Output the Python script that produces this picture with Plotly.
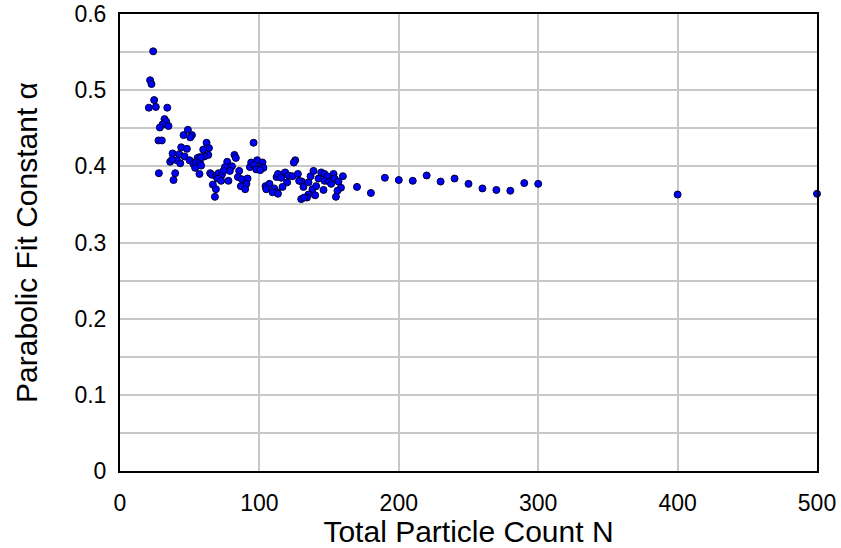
import plotly.graph_objects as go

# Total particle count N
n_values = [
    23.8, 21.6, 22.6, 24.5, 20.7, 25.7, 33.9, 31.9, 33.1, 30.5, 28.6, 34.8, 27.6, 30.0, 27.9,
    45.6, 51.6, 48.7, 50.4, 43.9, 48.0, 37.7, 42.5, 46.3, 36.0, 40.8, 49.9, 43.2, 52.7, 53.9,
    57.0, 39.6, 38.4, 57.0, 55.6, 54.7, 57.3, 58.2, 37.4,
    62.1, 63.8, 59.7, 63.3, 60.6, 58.2, 64.7, 65.9, 68.8, 70.7, 73.1, 69.9, 72.6, 66.6, 68.8, 68.1,
    95.8, 82.1, 83.1, 76.9, 75.3, 80.3, 78.8, 74.2, 85.5, 77.8, 84.6, 87.4, 91.5, 90.7, 86.7, 89.8,
    93.2, 94.1, 98.4, 96.1, 97.7,
    102.2, 101.3, 102.9, 100.6, 104.4, 107.2, 110.6, 112.3, 112.8, 109.4, 104.9, 114.9, 117.3,
    125.7, 124.7, 113.3, 118.5, 115.6, 120.9, 123.7, 127.6, 119.9, 116.6, 113.3, 130.5, 128.5,
    131.6, 135.2, 136.7, 138.8, 142.4, 138.1, 140.7, 144.3, 146.7, 148.8, 146.7, 146.0, 149.9,
    151.5, 153.2, 153.9, 156.7, 159.9, 158.5, 156.0, 154.9, 140.0, 135.2, 134.1, 130.0, 132.1,
    170, 180, 190, 200, 210, 220, 230, 240, 250, 260, 270, 280, 290, 300, 400, 500,
]

# Parabolic fit constant alpha
alpha_values = [
    0.551, 0.513, 0.508, 0.487, 0.477, 0.478, 0.477, 0.462, 0.459, 0.455, 0.451, 0.453, 0.434, 0.434, 0.391,
    0.441, 0.441, 0.448, 0.438, 0.425, 0.423, 0.417, 0.416, 0.413, 0.406, 0.408, 0.408, 0.404, 0.403, 0.398,
    0.412, 0.391, 0.382, 0.390, 0.411, 0.406, 0.406, 0.401, 0.409,
    0.431, 0.424, 0.422, 0.415, 0.413, 0.412, 0.391, 0.389, 0.387, 0.391, 0.389, 0.384, 0.381, 0.376, 0.370, 0.360,
    0.431, 0.415, 0.411, 0.406, 0.399, 0.400, 0.394, 0.394, 0.394, 0.381, 0.386, 0.383, 0.384, 0.377, 0.374, 0.370,
    0.399, 0.405, 0.408, 0.402, 0.396,
    0.405, 0.399, 0.398, 0.395, 0.374, 0.377, 0.371, 0.386, 0.366, 0.366, 0.370, 0.387, 0.390,
    0.408, 0.405, 0.390, 0.392, 0.385, 0.388, 0.387, 0.390, 0.379, 0.373, 0.364, 0.380, 0.381,
    0.373, 0.379, 0.387, 0.394, 0.384, 0.370, 0.374, 0.392, 0.390, 0.387, 0.381, 0.369, 0.380,
    0.377, 0.390, 0.384, 0.380, 0.387, 0.372, 0.368, 0.360, 0.362, 0.363, 0.359, 0.357, 0.359,
    0.373, 0.365, 0.385, 0.382, 0.381, 0.388, 0.380, 0.384, 0.377, 0.371, 0.369, 0.368, 0.378, 0.377, 0.363, 0.364,
]

x_tick_values = [0, 100, 200, 300, 400, 500]
y_tick_values = [0, 0.1, 0.2, 0.3, 0.4, 0.5, 0.6]
y_tick_labels = ["0", "0.1", "0.2", "0.3", "0.4", "0.5", "0.6"]

FONT = "Liberation Sans, Arial, sans-serif"

fig = go.Figure(
    go.Scatter(
        x=n_values,
        y=alpha_values,
        mode="markers",
        cliponaxis=False,
        marker=dict(color="#0000FF", size=7, line=dict(color="#000033", width=1)),
        showlegend=False,
    )
)

fig.update_layout(
    width=841,
    height=548,
    margin=dict(l=120, r=24, t=14, b=77),
    paper_bgcolor="white",
    plot_bgcolor="white",
    font=dict(family=FONT, size=23, color="black"),
    xaxis=dict(
        range=[0, 500],
        tickvals=x_tick_values,
        ticktext=[str(v) for v in x_tick_values],
        tickfont=dict(size=23),
        showgrid=True,
        gridcolor="#C8C8C8",
        gridwidth=1.5,
        showline=True,
        linecolor="black",
        linewidth=2,
        mirror=True,
        ticks="",
        ticklabelstandoff=10,
        ticklabeloverflow="allow",
        zeroline=False,
        automargin=False,
        title=dict(text="Total Particle Count N", font=dict(size=30), standoff=14),
    ),
    yaxis=dict(
        range=[0, 0.6],
        tickvals=y_tick_values,
        ticktext=y_tick_labels,
        tickfont=dict(size=23),
        showgrid=True,
        gridcolor="#C8C8C8",
        gridwidth=1.5,
        minor=dict(dtick=0.05, showgrid=True, gridcolor="#C8C8C8", gridwidth=1.5),
        showline=True,
        linecolor="black",
        linewidth=2,
        mirror=True,
        ticks="",
        ticklabelstandoff=7,
        ticklabeloverflow="allow",
        zeroline=False,
        automargin=False,
        title=dict(text="Parabolic Fit Constant α", font=dict(size=30), standoff=28),
    ),
)

fig.write_html("out.html")
